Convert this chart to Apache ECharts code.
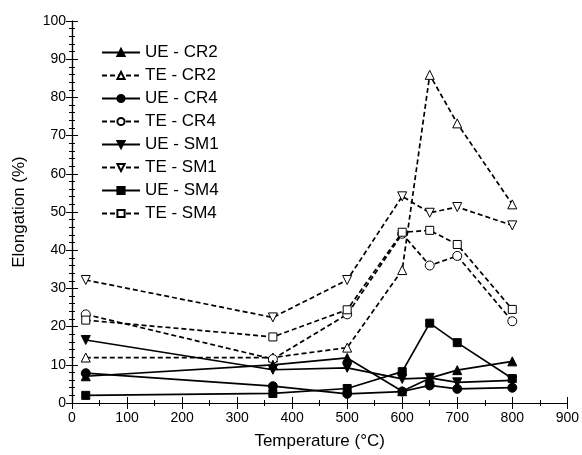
<!DOCTYPE html>
<html>
<head>
<meta charset="utf-8">
<script src="https://cdn.jsdelivr.net/npm/echarts@6/dist/echarts.min.js"></script>
<style>
  html, body { margin: 0; padding: 0; background: #fff; }
  #chart { width: 582px; height: 455px; }
</style>
</head>
<body>
<div id="chart"></div>
<script>
// temperatures (°C)
const temps = [25, 365, 500, 600, 650, 700, 800]

// elongation (%)
const ueCR2 = [7.0, 10.0, 11.8, 3.1, 6.5, 8.6, 10.9]
const teCR2 = [11.9, 11.9, 14.5, 34.8, 85.9, 73.2, 52.0]
const ueCR4 = [7.8, 4.4, 2.4, 3.0, 4.6, 3.7, 4.0]
const teCR4 = [23.2, 11.5, 23.2, 44.3, 36.0, 38.5, 21.4]
const ueSM1 = [16.5, 8.7, 9.2, 6.3, 6.6, 5.4, 5.9]
const teSM1 = [32.2, 22.4, 32.2, 54.1, 49.8, 51.3, 46.5]
const ueSM4 = [2.0, 2.5, 3.8, 8.2, 20.9, 15.8, 6.4]
const teSM4 = [21.7, 17.3, 24.4, 44.7, 45.2, 41.5, 24.5]

const seriesNames = ['UE - CR2', 'TE - CR2', 'UE - CR4', 'TE - CR4', 'UE - SM1', 'TE - SM1', 'UE - SM4', 'TE - SM4']
const seriesValues = [ueCR2, teCR2, ueCR4, teCR4, ueSM1, teSM1, ueSM4, teSM4]
const symbols = ['triangle', 'triangle', 'circle', 'circle', 'triangle', 'triangle', 'rect', 'rect']
const rotations = [0, 0, 0, 0, 180, 180, 0, 0]

const font = 'Liberation Sans, Arial, sans-serif'

const chart = echarts.init(document.getElementById('chart'))

const series = seriesNames.map((name, i) => {
  const open = name.startsWith('TE')
  return {
    name: name,
    type: 'line',
    data: temps.map((t, k) => [t, seriesValues[i][k]]),
    symbol: symbols[i],
    symbolRotate: rotations[i],
    symbolSize: symbols[i] === 'rect' ? 8 : 9,
    showAllSymbol: true,
    lineStyle: {
      color: '#000',
      width: 1.7,
      type: open ? [5, 3] : 'solid',
    },
    itemStyle: {
      color: open ? '#fff' : '#000',
      borderColor: '#000',
      borderWidth: 1,
    },
    z: open ? 2 : 3,
    animation: false,
  }
})

const tickStyle = { lineStyle: { color: '#000', width: 1 } }

chart.setOption({
  textStyle: { fontFamily: font },
  grid: { left: 72, right: 13, top: 21, bottom: 51 },
  legend: {
    orient: 'vertical',
    left: 96,
    top: 39,
    itemWidth: 38,
    itemHeight: 9,
    itemGap: 6,
    data: seriesNames,
    textStyle: { fontSize: 17, color: '#000', fontFamily: font },
  },
  xAxis: [
    {
      type: 'value',
      min: 0,
      max: 900,
      interval: 100,
      name: 'Temperature (°C)',
      nameLocation: 'middle',
      nameGap: 30,
      nameTextStyle: { fontSize: 17, color: '#000' },
      axisLine: { lineStyle: { color: '#000', width: 1.2 } },
      axisTick: { inside: true, length: 6, ...tickStyle },
      minorTick: { show: true, splitNumber: 2, length: 3, ...tickStyle },
      axisLabel: { fontSize: 14, color: '#000', margin: 8 },
      splitLine: { show: false },
    },
    {
      type: 'value',
      position: 'top',
      min: 0,
      max: 900,
      interval: 100,
      axisLine: { lineStyle: { color: '#000', width: 1.2 } },
      axisTick: { inside: true, length: 6, ...tickStyle },
      minorTick: { show: true, splitNumber: 2, length: 3, ...tickStyle },
      axisLabel: { show: false },
      splitLine: { show: false },
    },
  ],
  yAxis: [
    {
      type: 'value',
      min: 0,
      max: 100,
      interval: 10,
      name: 'Elongation (%)',
      nameLocation: 'middle',
      nameGap: 44,
      nameTextStyle: { fontSize: 17, color: '#000' },
      axisLine: { show: true, lineStyle: { color: '#000', width: 1.2 } },
      axisTick: { show: true, inside: true, length: 6, ...tickStyle },
      minorTick: { show: true, splitNumber: 5, length: 3, ...tickStyle },
      axisLabel: { fontSize: 14, color: '#000', margin: 6 },
      splitLine: { show: false },
    },
    {
      type: 'value',
      position: 'right',
      min: 0,
      max: 100,
      interval: 10,
      axisLine: { show: true, lineStyle: { color: '#000', width: 1.2 } },
      axisTick: { show: true, inside: true, length: 6, ...tickStyle },
      minorTick: { show: true, splitNumber: 5, length: 3, ...tickStyle },
      axisLabel: { show: false },
      splitLine: { show: false },
    },
  ],
  series: series,
})
</script>
</body>
</html>
